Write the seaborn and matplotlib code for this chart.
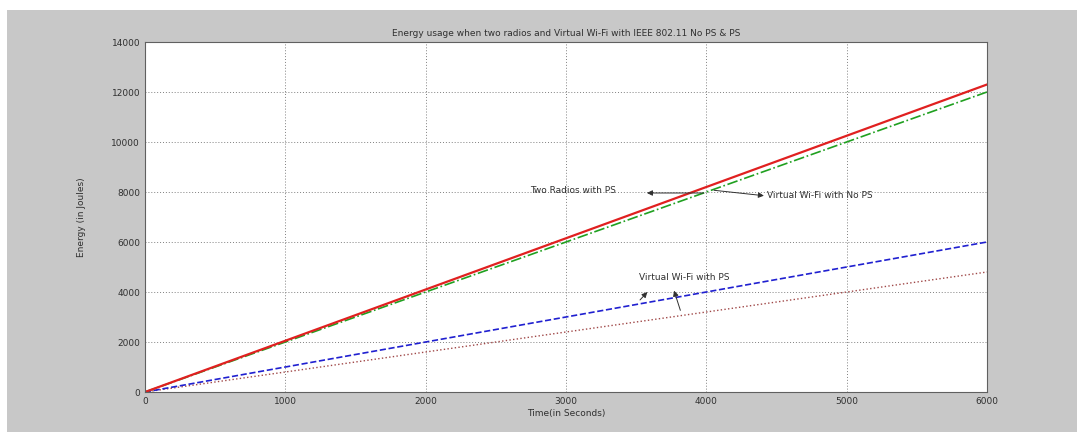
import numpy as np
import pandas as pd
import matplotlib
matplotlib.use("Agg")
import matplotlib.pyplot as plt
import seaborn as sns
from matplotlib.patches import Rectangle

sns.set_style("whitegrid")
plt.rcParams['font.family'] = ['DejaVu Sans']

# Data
time_s = [0, 1000, 2000, 3000, 4000, 5000, 6000]
two_radios_ps = [0, 2050, 4100, 6150, 8200, 10250, 12300]
vwifi_no_ps = [0, 2000, 4000, 6000, 8000, 10000, 12000]
vwifi_ps = [0, 1000, 2000, 3000, 4000, 5000, 6000]
two_radios_no_ps = [0, 800, 1600, 2400, 3200, 4000, 4800]

x_ticks = [0, 1000, 2000, 3000, 4000, 5000, 6000]
y_ticks = [0, 2000, 4000, 6000, 8000, 10000, 12000, 14000]

fig = plt.figure(figsize=(10.77, 4.32), dpi=100, facecolor="white")
# matlab-style grey window background
fig.patches.append(Rectangle((7 / 1077, 0), 1 - 7 / 1077, 1 - 10 / 432,
                             transform=fig.transFigure, facecolor="#c8c8c8",
                             edgecolor="none", zorder=-1))

ax = fig.add_axes([145 / 1077, 40 / 432, 842 / 1077, 350 / 432])
ax.set_facecolor("white")

sns.lineplot(x=time_s, y=two_radios_no_ps, ax=ax, color="#a04848", linestyle=":", linewidth=1)
sns.lineplot(x=time_s, y=vwifi_ps, ax=ax, color="#2020d0", linestyle="--", linewidth=1.2)
sns.lineplot(x=time_s, y=vwifi_no_ps, ax=ax, color="#20a020", linestyle="-.", linewidth=1.2)
sns.lineplot(x=time_s, y=two_radios_ps, ax=ax, color="#e02020", linestyle="-", linewidth=1.6)

ax.set_xlim(0, 6000)
ax.set_ylim(0, 14000)
ax.set_xticks(x_ticks)
ax.set_yticks(y_ticks)
ax.tick_params(labelsize=6.5, colors="#303030", direction="in", length=3)
ax.grid(True, color="#808080", linestyle=(0, (1, 2)), linewidth=0.7)
for s in ax.spines.values():
    s.set_color("#606060")
    s.set_linewidth(0.8)

ax.set_title("Energy usage when two radios and Virtual Wi-Fi with IEEE 802.11 No PS & PS",
             fontsize=6.5, color="#303030", pad=4)
ax.set_xlabel("Time(in Seconds)", fontsize=6.5, color="#303030", labelpad=2)
ax.set_ylabel("Energy (in Joules)", fontsize=6.5, color="#303030", labelpad=18)

arrow = dict(arrowstyle="-|>", color="#303030", lw=0.7, mutation_scale=8)
ax.text(3357, 8050, "Two Radios with PS", fontsize=6.5, color="#303030", ha="right", va="center")
ax.annotate("", xy=(3557, 7960), xytext=(4000, 7960), arrowprops=arrow)
ax.text(4430, 7840, "Virtual Wi-Fi with No PS", fontsize=6.5, color="#303030", ha="left", va="center")
ax.annotate("", xy=(4430, 7840), xytext=(4036, 8080), arrowprops=arrow)
ax.text(3520, 4600, "Virtual Wi-Fi with PS", fontsize=6.5, color="#303030", ha="left", va="center")
ax.annotate("", xy=(3593, 4080), xytext=(3514, 3600), arrowprops=arrow)
ax.annotate("", xy=(3764, 4160), xytext=(3821, 3160), arrowprops=arrow)

fig.savefig("out.png", dpi=100, facecolor=fig.get_facecolor())
